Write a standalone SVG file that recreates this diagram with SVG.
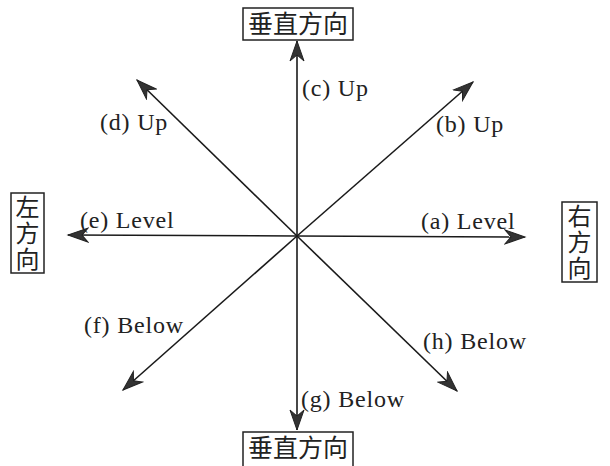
<svg xmlns="http://www.w3.org/2000/svg" width="610" height="466" viewBox="0 0 610 466">
<defs>
<style>
.ln{stroke:#1a1a1a;stroke-width:1.6;fill:none;marker-end:url(#ah)}
.lb{font-family:"Liberation Serif","Times New Roman",serif;font-size:24px;fill:#222;letter-spacing:0.8px}
.cj{font-family:"Noto Sans CJK SC","Noto Sans CJK JP",sans-serif;font-size:25px;fill:#222}
.cv{font-family:"Noto Sans CJK SC","Noto Sans CJK JP",sans-serif;font-size:24px;fill:#222;writing-mode:vertical-rl;letter-spacing:2px}
.bx{fill:#fff;stroke:#222;stroke-width:1.5}
</style>
<marker id="ah" viewBox="-21 -8 23 16" refX="0" refY="0" markerWidth="23" markerHeight="16" markerUnits="userSpaceOnUse" orient="auto">
<path d="M0,0 L-20,-7 L-14,0 L-20,7 Z" fill="#333" stroke="#222" stroke-width="1"/>
</marker>
</defs>
<rect width="610" height="466" fill="#fff"/>
<g id="connectors">
<line class="ln" x1="297" y1="236" x2="525" y2="237"/>
<line class="ln" x1="297" y1="236" x2="473" y2="82"/>
<line class="ln" x1="297" y1="236" x2="297" y2="41"/>
<line class="ln" x1="297" y1="236" x2="137" y2="80"/>
<line class="ln" x1="297" y1="236" x2="68" y2="235"/>
<line class="ln" x1="297" y1="236" x2="123" y2="390"/>
<line class="ln" x1="297" y1="236" x2="297" y2="430"/>
<line class="ln" x1="297" y1="236" x2="457" y2="391"/>
</g>
<g id="label-a"><text class="lb" x="421" y="229">(a) Level</text></g>
<g id="label-b"><text class="lb" x="436" y="132">(b) Up</text></g>
<g id="label-c"><text class="lb" x="302" y="96">(c) Up</text></g>
<g id="label-d"><text class="lb" x="100" y="130">(d) Up</text></g>
<g id="label-e"><text class="lb" x="80" y="228">(e) Level</text></g>
<g id="label-f"><text class="lb" x="84" y="333">(f) Below</text></g>
<g id="label-g"><text class="lb" x="301" y="407">(g) Below</text></g>
<g id="label-h"><text class="lb" x="423" y="349">(h) Below</text></g>
<g id="top-box">
<rect class="bx" x="243" y="8" width="110" height="32"/>
<text class="cj" x="298" y="33" text-anchor="middle">垂直方向</text>
</g>
<g id="bottom-box">
<rect class="bx" x="243" y="432" width="110" height="40"/>
<text class="cj" x="298" y="457" text-anchor="middle">垂直方向</text>
</g>
<g id="left-box">
<rect class="bx" x="11" y="193" width="33" height="80"/>
<text class="cv" x="27.5" y="195">左方向</text>
</g>
<g id="right-box">
<rect class="bx" x="562" y="202" width="35" height="80"/>
<text class="cv" x="579.5" y="204">右方向</text>
</g>
</svg>
